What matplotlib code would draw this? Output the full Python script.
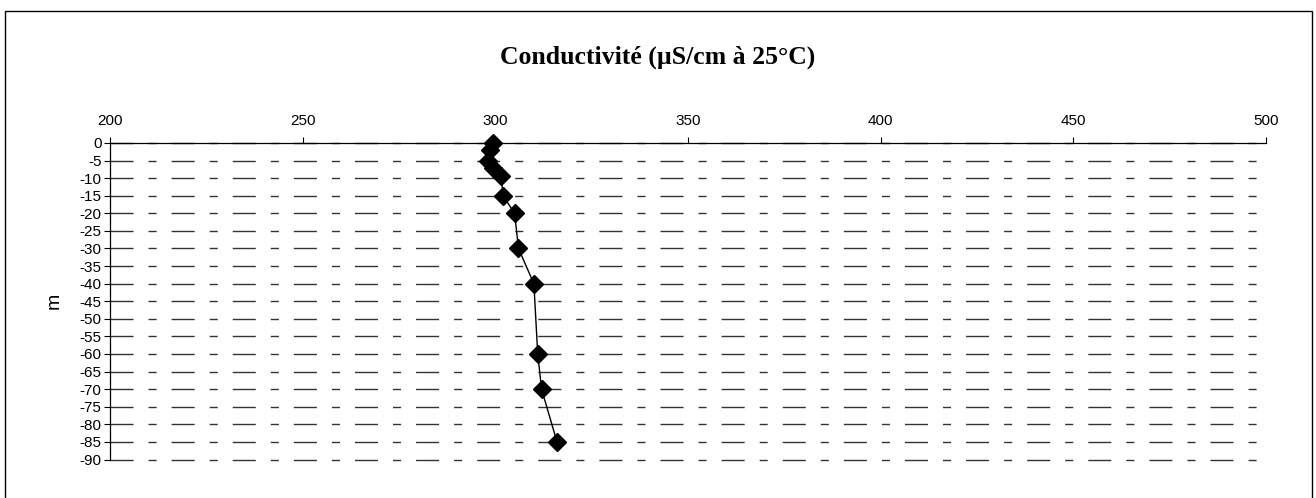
import matplotlib
matplotlib.use("Agg")
import matplotlib.pyplot as plt
from matplotlib.patches import Rectangle

plt.rcParams['axes.unicode_minus'] = False

# Conductivity profile (µS/cm at 25°C) vs depth (m)
conductivite = [299.5, 298.5, 298.0, 299.5, 301.5, 302.0, 305.0, 306.0, 310.0, 311.0, 312.0, 316.0]
profondeur = [0, -2, -5, -7, -9.5, -15, -20, -30, -40, -60, -70, -85]

x_ticks = [200, 250, 300, 350, 400, 450, 500]
y_ticks = list(range(0, -95, -5))

fig = plt.figure(figsize=(13.16, 4.98), dpi=100)
ax = fig.add_axes([0.0836, 0.0773, 0.8784, 0.6356])

# Plot profile
ax.plot(conductivite, profondeur, color='black', linewidth=1.0, clip_on=False, zorder=5,
        marker='D', markersize=9, markerfacecolor='black', markeredgecolor='black')

ax.set_xlim(200, 500)
ax.set_ylim(-90, 0)
ax.set_xticks(x_ticks)
ax.set_yticks(y_ticks)

# x axis on top, Excel style
ax.xaxis.tick_top()
ax.tick_params(axis='x', direction='out', length=4, width=0.8, pad=7, labelsize=11)
ax.tick_params(axis='y', direction='out', length=4, width=0.8, pad=2, labelsize=11)
for lbl in ax.get_xticklabels() + ax.get_yticklabels():
    lbl.set_fontfamily('Liberation Sans')

ax.spines['right'].set_visible(False)
ax.spines['bottom'].set_visible(False)
ax.spines['top'].set_linewidth(0.9)
ax.spines['left'].set_linewidth(0.9)

# Dashed horizontal gridlines (long-short pattern)
ax.yaxis.grid(True, color='#333333', linewidth=1.0, dashes=(16.6, 10.8, 5.8, 10.8))
ax.set_axisbelow(True)
for gl in ax.yaxis.get_gridlines():
    gl.set_clip_on(False)

ax.set_ylabel('m', fontsize=14, family='Liberation Sans', labelpad=12)

fig.text(0.5, 0.885, 'Conductivité (µS/cm à 25°C)', ha='center', va='center',
         fontsize=18.5, fontweight='bold', family='Liberation Serif')

# Outer chart border
fig.patches.append(Rectangle((5 / 1316, -0.01), 1307 / 1316, 1 - 11 / 498 + 0.01,
                             transform=fig.transFigure, fill=False,
                             edgecolor='black', linewidth=1.0))

fig.savefig('out.png', dpi=100)
